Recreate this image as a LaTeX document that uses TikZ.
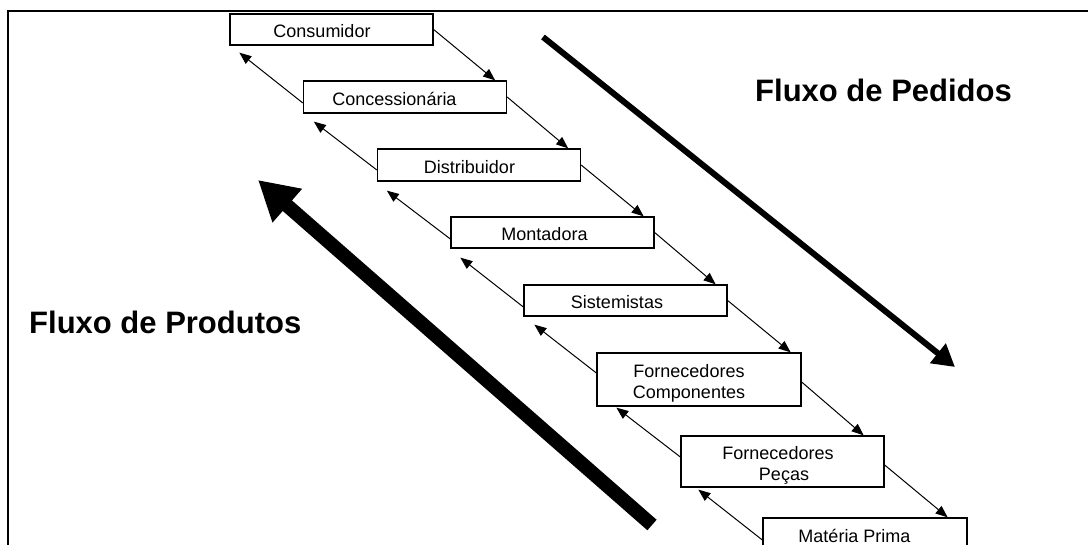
\documentclass[tikz,border=0pt]{standalone}
\usepackage{fontspec}
\setmainfont{Liberation Sans}
\usetikzlibrary{arrows.meta}
\tikzset{
  box/.style={draw, line width=1.3pt, minimum width=203pt, minimum height=31pt, inner sep=0pt, fill=white},
  lbl/.style={font=\fontsize{18}{21}\selectfont, inner sep=0pt, align=center},
  title/.style={font=\fontsize{31}{36}\selectfont\bfseries, inner sep=0pt, anchor=base west},
  small/.style={line width=1pt, -{Triangle[length=12pt,width=9.5pt]}},
}
\begin{document}
\begin{tikzpicture}[x=1pt,y=-1pt]
\useasboundingbox (0,0) rectangle (1088,545);
\clip (0,0) rectangle (1088,545);
% frame
\coordinate (fl) at (8,545);
\coordinate (fc) at (8,11);
\coordinate (fr) at (1090,11);
\draw[line width=1.4pt] (fl) -- (fc) -- (fr);
% boxes
\node[box] (b1) at (331.5,29.5) {};
\node[box, minimum height=32pt] (b2) at (405,97) {};
\node[box, minimum height=32pt] (b3) at (479,165) {};
\node[box] (b4) at (552.5,232.5) {};
\node[box] (b5) at (625.5,300.5) {};
\node[box, minimum height=53pt, minimum width=204pt] (b6) at (699,379.5) {};
\node[box, minimum height=51pt] (b7) at (782.5,461.5) {};
\node[box, minimum width=204pt] (b8) at (865,533.5) {};
% labels
\node[lbl] (t1) at ([shift={(-9.5,2)}]b1.center) {Consumidor};
\node[lbl] (t2) at ([shift={(-10.5,2)}]b2.center) {Concessionária};
\node[lbl] (t3) at ([shift={(-9.5,2)}]b3.center) {Distribuidor};
\node[lbl] (t4) at ([shift={(-8,2)}]b4.center) {Montadora};
\node[lbl] (t5) at ([shift={(-8.5,2)}]b5.center) {Sistemistas};
\node[lbl] (t6) at ([shift={(-10,4)}]b6.center) {Fornecedores\\Componentes};
\node[lbl] (t7) at ([shift={(-4.5,4)}]b7.center) {Fornecedores\\\hspace*{12pt}Peças};
\node[lbl] (t8) at ([shift={(-10.5,2)}]b8.center) {Matéria Prima};
% order flow (right arrows)
\draw[small] (b1.east) -- ([xshift=-12pt]b2.north east);
\draw[small] (b2.east) -- ([xshift=-13pt]b3.north east);
\draw[small] (b3.east) -- ([xshift=-11pt]b4.north east);
\draw[small] (b4.east) -- ([xshift=-12pt]b5.north east);
\draw[small] (b5.east) -- ([xshift=-11pt]b6.north east);
\draw[small] ([shift={(0,2.5)}]b6.east) -- ([xshift=-21pt]b7.north east);
\draw[small] ([shift={(0,3.5)}]b7.east) -- ([xshift=-20pt]b8.north east);
% product flow (left arrows)
\draw[small] ([shift={(0,6)}]b2.west) -- ([shift={(10,7)}]b1.south west);
\draw[small] ([shift={(0,5)}]b3.west) -- ([shift={(11,8)}]b2.south west);
\draw[small] ([shift={(0,6.5)}]b4.west) -- ([shift={(10,9)}]b3.south west);
\draw[small] ([shift={(0,6.5)}]b5.west) -- ([shift={(10,9)}]b4.south west);
\draw[small] ([shift={(0,-6.5)}]b6.west) -- ([shift={(11,8)}]b5.south west);
\draw[small] ([shift={(0,-4.5)}]b7.west) -- ([shift={(20,1)}]b6.south west);
\draw[small] ([shift={(0,6.5)}]b8.west) -- ([shift={(18,2)}]b7.south west);
% big arrows
\coordinate (pa) at (543,37);
\coordinate (pb) at (955,367);
\draw[line width=6pt, -{Triangle[length=22pt,width=24pt]}] (pa) -- (pb);
\coordinate (qa) at (652,525);
\coordinate (qb) at (258,180);
\draw[line width=14pt, -{Triangle[length=39pt,width=42pt]}] (qa) -- (qb);
% titles
\node[title] (tp) at (755,101.5) {Fluxo de Pedidos};
\node[title] (tq) at (29,334) {Fluxo de Produtos};
\end{tikzpicture}
\end{document}
